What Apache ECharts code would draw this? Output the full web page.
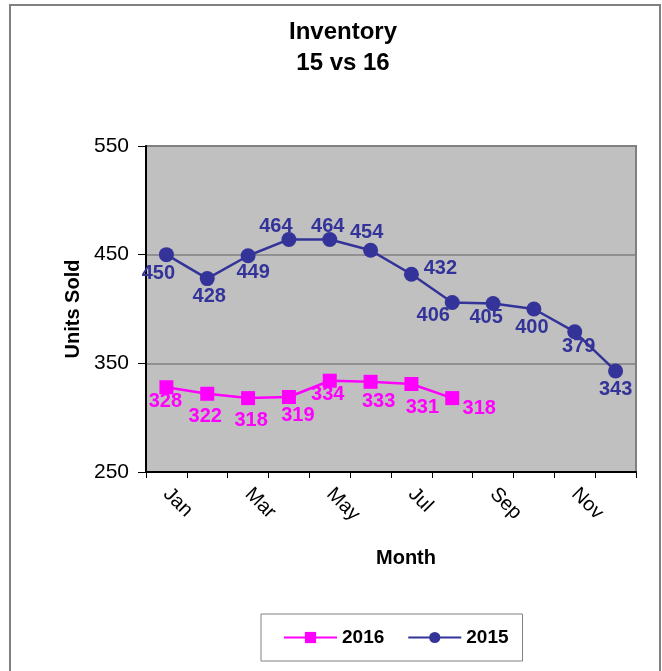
<!DOCTYPE html>
<html>
<head>
<meta charset="utf-8">
<script src="https://cdn.jsdelivr.net/npm/echarts@6/dist/echarts.min.js"></script>
<style>
html,body{margin:0;padding:0;background:#fff;}
#chart{width:662px;height:671px;}
</style>
</head>
<body>
<div id="chart"></div>
<script>
const months = ['Jan','Feb','Mar','Apr','May','Jun','Jul','Aug','Sep','Oct','Nov','Dec'];
const sales2016 = [328, 322, 318, 319, 334, 333, 331, 318];
const sales2015 = [450, 428, 449, 464, 464, 454, 432, 406, 405, 400, 379, 343];
const yTicks = [250, 350, 450, 550];

// label offsets (style only)
const off2015 = [[-8,19],[2,18],[5,17],[-13,-13],[-2,-13],[-4,-18],[29,-6],[-19,13],[-7,14],[-2,18],[4,15],[0,19]];
const off2016 = [[-1,14],[-2,23],[3,22],[9,18],[-2,14],[8,20],[11,24],[27,10]];

const FONT = '"Liberation Sans", Arial, sans-serif';

function mk(values, offs) {
  return values.map((v, i) => ({ value: v, label: { offset: offs[i] } }));
}

const chart = echarts.init(document.getElementById('chart'));
chart.setOption({
  animation: false,
  backgroundColor: '#ffffff',
  textStyle: { fontFamily: FONT },
  title: {
    text: 'Inventory\n15 vs 16',
    left: 338, top: 12, textAlign: 'center',
    textStyle: { fontFamily: FONT, fontSize: 24, fontWeight: 'bold', color: '#000', lineHeight: 31 }
  },
  graphic: [{
    type: 'rect', z: -1,
    shape: { x: 10, y: 5, width: 650, height: 680 },
    style: { fill: 'none', stroke: '#808080', lineWidth: 2 }
  }],
  legend: {
    left: 261, top: 614,
    padding: [14, 14, 14, 22],
    itemGap: 23, itemWidth: 53, itemHeight: 14,
    borderColor: '#808080', borderWidth: 1,
    textStyle: { fontFamily: FONT, fontSize: 19, fontWeight: 'bold', color: '#000' },
    data: ['2016', '2015']
  },
  grid: {
    left: 146, right: 26, top: 146, bottom: 199,
    show: true, backgroundColor: '#C0C0C0', borderColor: '#808080', borderWidth: 2
  },
  xAxis: {
    type: 'category', data: months, boundaryGap: true,
    name: 'Month', nameLocation: 'middle', nameGap: 76,
    nameTextStyle: { fontFamily: FONT, fontSize: 20, fontWeight: 'bold', color: '#000', padding: [0, 0, 0, 30] },
    axisLine: { lineStyle: { color: '#000', width: 2 } },
    axisTick: { show: true, interval: 0, length: 6, lineStyle: { color: '#000', width: 1 } },
    axisLabel: { interval: 1, rotate: -45, margin: 19, fontFamily: FONT, fontSize: 20, color: '#000' },
    splitLine: { show: false }
  },
  yAxis: {
    type: 'value', min: 250, max: 550, interval: 100,
    name: 'Units Sold', nameLocation: 'middle', nameGap: 59,
    nameTextStyle: { fontFamily: FONT, fontSize: 20, fontWeight: 'bold', color: '#000' },
    axisLine: { show: true, lineStyle: { color: '#000', width: 2 } },
    axisTick: { show: true, length: 8, lineStyle: { color: '#000', width: 1 } },
    axisLabel: { margin: 17, fontFamily: FONT, fontSize: 21, color: '#000',
      formatter: v => (yTicks.indexOf(v) >= 0 ? String(v) : '') },
    splitLine: { show: true, lineStyle: { color: '#808080', width: 1.5 } }
  },
  series: [
    {
      name: '2016', type: 'line', data: mk(sales2016, off2016),
      symbol: 'rect', symbolSize: 14,
      itemStyle: { color: '#FF00FF' },
      lineStyle: { color: '#FF00FF', width: 2.5 },
      label: { show: true, position: 'inside', fontFamily: FONT, fontSize: 20, fontWeight: 'bold', color: '#FF00FF' },
      z: 3
    },
    {
      name: '2015', type: 'line', data: mk(sales2015, off2015),
      symbol: 'circle', symbolSize: 15,
      itemStyle: { color: '#333399' },
      lineStyle: { color: '#333399', width: 2.5 },
      label: { show: true, position: 'inside', fontFamily: FONT, fontSize: 20, fontWeight: 'bold', color: '#333399' },
      z: 3
    }
  ]
});
</script>
</body>
</html>
